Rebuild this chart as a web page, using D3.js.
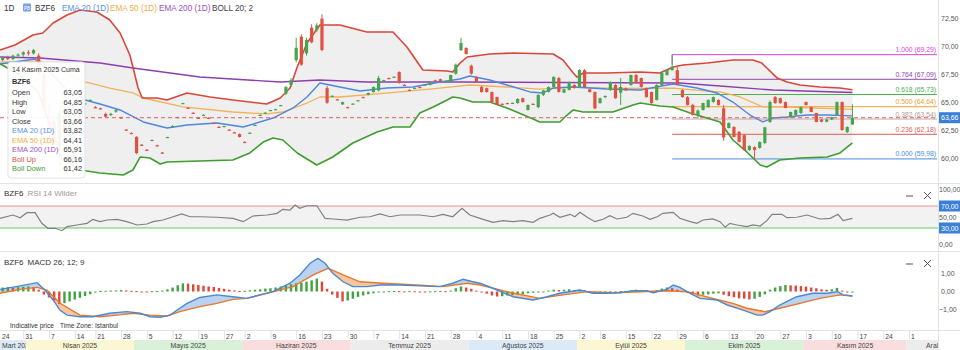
<!DOCTYPE html>
<html><head><meta charset="utf-8">
<script src="https://cdn.jsdelivr.net/npm/d3@7"></script>
<style>
html,body{margin:0;padding:0;background:#fff;}
svg{display:block;font-family:"Liberation Sans",Arial,sans-serif;}
</style></head><body>
<svg id="c" width="960" height="350"></svg>
<script>
// ---------------- DATA ----------------
const firstDay = "2025-03-24", lastDay = "2025-12-08";
const holidays = ["2025-04-18", "2025-05-26", "2025-09-01"];

// daily candles [open, high, low, close] from 2025-03-24 (trading days)
const candles = [
[68.7,68.9,68.6,68.8],[68.8,69.1,68.7,69.0],[69.0,69.2,68.8,68.9],[68.9,69.3,68.8,69.2],[69.2,69.4,69.0,69.3],
[69.3,69.6,69.1,69.5],[69.5,69.7,69.2,69.4],[69.4,69.8,69.3,69.7],[69.2,69.4,67.4,67.6],[67.5,67.7,64.2,64.4],
[63.4,64.8,61.6,63.0],[63.3,63.7,61.2,61.5],[60.9,64.7,59.4,64.1],[63.8,64.0,61.8,62.3],[62.4,63.9,62.2,63.7],
[63.8,64.2,63.3,63.9],[63.9,64.1,63.2,63.5],[64.9,65.0,64.8,64.95],[65.2,65.3,65.1,65.25],[64.6,64.7,64.5,64.55],
[64.5,64.55,64.4,64.45],[64.0,64.1,63.7,63.75],[63.9,64.1,63.8,64.0],[64.2,64.4,64.1,64.35],[63.7,63.75,63.55,63.6],
[62.6,62.65,62.5,62.55],[62.3,62.35,62.2,62.25],[61.95,62.0,60.4,60.5],[61.25,61.3,61.15,61.2],[60.8,60.85,60.7,60.75],
[61.65,61.7,61.6,61.68],[61.2,61.25,61.1,61.15],[60.55,60.6,60.45,60.5],[61.9,61.95,61.85,61.94],[62.9,63.0,62.8,62.92],
[63.7,63.75,63.65,63.72],[64.95,65.0,64.9,64.97],[64.55,64.6,64.5,64.53],[64.1,64.15,64.0,64.05],[63.65,63.7,63.6,63.63],
[63.9,63.95,63.85,63.92],[63.65,63.7,63.6,63.6],[63.2,63.25,63.1,63.15],[62.85,62.9,62.8,62.83],[62.9,62.95,62.85,62.92],
[62.6,62.6,62.5,62.56],[62.35,62.4,62.3,62.3],[62.2,62.25,61.9,61.94],[61.5,61.55,61.45,61.49],[62.3,62.35,62.25,62.32],
[63.0,63.05,62.95,63.02],[63.9,63.95,63.85,63.92],[64.1,64.15,64.05,64.12],[64.3,64.35,64.25,64.35],[64.4,64.45,64.35,64.42],
[64.75,64.8,64.7,64.79],[65.8,66.5,65.7,66.4],[66.6,67.2,66.4,67.0],[68.8,70.8,68.6,69.9],[70.9,71.1,68.3,68.4],
[69.4,70.8,69.2,70.6],[71.7,72.0,70.3,70.4],[71.5,72.1,71.3,71.9],[72.5,72.9,69.6,69.7],[66.3,66.5,64.9,65.0],
[65.6,65.65,65.55,65.62],[65.3,65.35,65.25,65.28],[64.85,65.1,64.8,65.05],[64.6,64.65,64.55,64.58],[64.9,64.95,64.85,64.92],
[65.2,65.25,65.15,65.22],[65.5,65.55,65.45,65.48],[65.7,65.9,65.65,65.87],[65.95,66.45,65.9,66.4],[66.1,67.4,66.0,67.2],
[67.0,67.05,66.95,67.02],[67.2,67.25,67.15,67.18],[67.3,67.35,67.25,67.32],[67.74,67.8,66.7,66.76],[66.6,66.65,66.55,66.58],
[66.15,66.2,66.1,66.13],[66.3,66.35,66.25,66.32],[66.4,66.45,66.35,66.38],[66.6,66.65,66.55,66.62],[66.6,66.85,66.55,66.8],
[67.0,67.05,66.95,66.98],[67.1,67.15,66.85,66.9],[66.9,66.95,66.85,66.92],[66.85,67.5,66.8,67.47],[67.6,68.5,67.5,68.4],
[69.7,70.8,69.6,70.33],[69.88,69.95,69.3,69.35],[68.3,68.4,67.5,67.6],[67.3,67.35,66.8,66.85],[66.4,66.5,65.9,65.95],
[66.3,66.35,65.9,65.95],[65.95,66.0,65.0,65.06],[65.5,65.55,64.75,64.8],[64.9,64.95,64.85,64.88],[64.97,65.0,64.9,64.95],
[64.97,65.0,64.9,64.99],[64.97,65.4,64.9,65.33],[65.4,65.45,65.0,65.06],[64.35,64.85,64.3,64.8],[64.9,64.95,64.8,64.85],
[64.6,65.75,64.5,65.7],[65.7,66.15,65.6,66.1],[65.96,66.45,65.9,66.4],[66.4,67.35,66.3,67.3],[67.2,67.3,65.9,65.96],
[65.9,66.25,65.85,66.2],[66.13,66.9,66.1,66.85],[66.58,66.65,66.25,66.31],[66.4,68.0,66.3,67.92],[67.9,68.0,66.35,66.4],
[66.2,66.25,65.9,65.95],[65.95,66.0,64.4,64.5],[64.97,65.45,64.9,65.4],[65.5,65.65,65.4,65.6],[66.13,66.9,66.05,66.85],
[66.58,66.65,65.35,65.4],[65.9,67.2,64.8,66.4],[66.3,66.35,66.05,66.1],[66.58,67.5,66.5,67.47],[67.47,67.55,66.7,66.76],
[67.2,67.25,66.35,66.4],[66.3,66.35,65.45,65.5],[65.95,66.0,64.9,64.97],[65.24,66.65,65.2,66.58],[66.58,67.7,66.5,67.65],
[67.47,67.95,67.4,67.92],[67.92,69.29,67.85,68.2],[67.9,68.2,66.55,66.6],[66.13,66.2,65.45,65.5],[65.5,65.6,64.75,64.8],
[64.8,64.9,63.85,63.9],[63.9,64.4,63.6,64.3],[64.35,65.0,64.3,64.97],[64.6,65.3,64.55,65.24],[65.06,65.55,65.0,65.5],
[65.24,65.3,64.75,64.79],[64.5,64.8,61.6,61.9],[62.74,63.25,62.7,63.19],[62.83,62.9,61.9,61.94],[62.4,62.45,61.45,61.5],
[62.1,62.15,60.7,60.78],[60.78,61.2,60.7,61.13],[61.04,61.1,59.98,60.78],[60.96,61.55,60.9,61.49],[61.4,62.85,61.3,62.8],
[63.28,65.2,63.2,65.06],[65.5,65.6,64.9,64.97],[65.4,65.45,64.9,64.97],[65.06,65.1,64.5,64.53],[63.72,64.2,63.65,64.17],
[63.9,64.4,63.85,64.35],[64.08,64.65,64.0,64.6],[65.06,65.1,64.75,64.79],[64.6,64.65,64.15,64.17],[64.08,64.1,63.25,63.28],
[63.5,63.55,63.25,63.3],[63.3,63.55,63.25,63.5],[63.5,63.75,63.45,63.7],[63.9,65.1,63.85,65.06],[65.06,65.1,62.5,62.56],
[62.38,62.9,62.3,62.83],[63.05,64.85,63.05,63.66]
];

// indicator lines: [trading-day number, value]
const ema20 = [[0.5,68.46],[7.3,68.9],[10.2,67.74],[13.1,66.31],[17.0,65.24],[19.9,64.88],[23.8,64.35],[28.3,63.28],[32.9,62.74],[36.8,63.01],[42.6,63.19],[47.7,62.83],[53.5,63.63],[57.4,64.53],[60.1,65.51],[62.6,66.76],[66.5,66.40],[70.4,66.04],[75.6,66.31],[80.7,66.40],[85.9,66.85],[89.8,67.12],[91.7,67.38],[95.6,67.03],[98.9,66.58],[103.4,65.96],[105.9,65.87],[107.9,66.31],[111.8,66.40],[118.3,66.22],[124.8,66.13],[130.0,66.58],[131.2,66.67],[135.8,66.31],[139.7,65.87],[142.8,65.06],[146.1,63.90],[148.6,63.28],[150.6,63.63],[153.3,63.72],[157.2,63.90],[161.1,63.90],[166,63.82]];
const ema50 = [[0.5,68.63],[8.3,68.7],[12.0,67.9],[17.0,66.85],[21.8,66.31],[26.3,65.87],[28.3,65.42],[36.0,64.62],[45.7,64.17],[52.3,64.0],[55.4,64.17],[60.1,64.97],[62.6,65.51],[66.5,65.51],[78.2,65.96],[85.9,66.31],[91.7,66.58],[98.9,66.40],[105.3,66.22],[111.8,66.40],[118.3,66.31],[124.8,66.27],[131.2,66.31],[137.8,66.04],[140.3,65.96],[144.2,65.51],[148.6,64.62],[152.0,64.62],[166,64.41]];
const ema200 = [[0.5,69.08],[8.3,68.99],[19.9,68.54],[26.3,68.10],[39.3,67.29],[54.9,66.85],[62.6,67.03],[71.7,66.85],[89.8,66.85],[109.2,66.80],[132.5,66.76],[140.3,66.49],[150.6,66.13],[166,65.91]];
const bollUp = [[0.5,69.71],[3.4,70.15],[6.9,71.04],[8.8,71.22],[10.8,72.12],[13.5,72.83],[16.0,73.28],[19.3,73.10],[21.8,72.38],[23.8,71.22],[25.7,69.26],[26.3,68.19],[27.3,66.31],[28.1,65.42],[31.0,65.42],[32.9,65.24],[36.8,65.87],[41.3,65.51],[45.7,65.24],[52.3,64.88],[54.9,65.42],[56.8,66.31],[58.2,68.19],[60.1,70.33],[62.6,71.94],[66.5,71.94],[71.7,71.31],[76.8,71.31],[79.5,69.97],[82.6,67.92],[87.3,67.83],[88.4,67.74],[89.8,68.54],[91.2,69.08],[95.6,69.35],[100.1,69.44],[107.9,69.35],[109.8,68.81],[111.8,67.65],[112.5,67.29],[113.7,67.65],[118.3,67.65],[124.8,67.74],[128.6,67.65],[131.2,68.19],[133.1,68.37],[137.8,68.54],[142.8,68.81],[146.7,68.81],[148.4,68.54],[149.4,68.10],[151.4,67.20],[153.3,66.85],[155.8,66.58],[159.7,66.40],[163.6,66.31],[166,66.16]];
const bollDown = [[0.5,68.46],[4.4,67.47],[7.9,65.96],[10.2,63.01],[12.5,60.06],[16.0,58.99],[19.9,58.72],[24.4,58.54],[26.3,58.99],[27.7,60.15],[29.6,60.06],[31.6,59.53],[32.9,59.71],[39.3,59.79],[45.7,59.88],[49.0,60.51],[51.6,61.49],[53.5,61.85],[55.4,61.67],[58.2,60.51],[62.0,59.44],[65.1,60.15],[69.0,61.40],[73.7,62.38],[76.8,62.83],[80.1,62.83],[82.0,64.08],[84.6,64.62],[87.3,65.24],[88.4,65.51],[89.8,65.42],[92.3,65.06],[95.6,65.06],[98.9,64.53],[104.0,63.54],[105.3,63.28],[109.2,63.28],[110.6,63.90],[111.8,64.35],[113.7,64.17],[119.5,64.17],[123.4,64.79],[124.8,64.97],[128.6,64.71],[131.2,64.62],[134.5,64.08],[140.3,63.28],[142.8,61.67],[145.5,60.60],[148.1,59.44],[149.4,59.26],[151.9,59.88],[155.8,60.06],[161.1,60.15],[163.6,60.51],[166,61.42]];

const rsi = [[0.5,47.6],[3.0,53.6],[4.4,48.7],[5.7,57.8],[7.3,57.8],[8.6,38.5],[9.8,29.5],[11.2,29.5],[12.5,25.1],[13.5,32.4],[15.4,35.5],[17.4,38.5],[18.5,45.8],[19.9,41.5],[21.3,44.5],[23.2,45.8],[25.1,41.5],[27.1,35.5],[29.0,37.3],[30.2,41.5],[32.1,44.5],[34.1,50.5],[35.8,55.5],[37.4,50.5],[39.3,50.5],[42.6,49.5],[45.7,47.6],[47.7,41.5],[49.6,51.8],[52.3,53.6],[54.3,56.7],[55.4,64.0],[56.8,62.7],[57.8,71.8],[58.7,65.8],[60.1,70.5],[62.0,70.5],[63.6,47.6],[65.1,46.4],[67.9,44.5],[70.4,49.5],[72.3,50.5],[74.3,55.5],[76.2,50.5],[78.2,53.6],[82.0,53.6],[84.6,50.5],[86.5,54.9],[88.4,50.5],[90.2,65.8],[91.7,53.6],[93.7,47.6],[96.2,40.4],[98.2,43.3],[100.1,41.5],[102.0,43.3],[104.0,40.4],[105.3,47.6],[107.3,53.6],[107.9,56.7],[109.2,49.5],[111.2,54.9],[112.1,50.5],[113.1,58.5],[114.5,49.5],[116.0,41.5],[117.6,45.8],[118.9,52.4],[120.3,46.4],[122.2,49.5],[123.4,56.7],[125.3,51.8],[126.7,45.8],[128.1,50.5],[129.2,56.7],[131.2,58.5],[132.5,47.6],[134.5,41.5],[135.8,38.5],[137.0,44.5],[138.9,46.4],[140.3,41.5],[141.3,31.3],[142.2,38.5],[143.6,35.5],[145.5,32.4],[146.7,35.5],[148.1,33.6],[149.4,43.3],[150.4,54.9],[152.3,54.9],[153.3,48.7],[155.2,49.5],[157.2,53.6],[159.7,46.4],[161.7,47.6],[163.2,54.9],[164.2,43.3],[166,47.6]];

const macdLine = [[0.5,0.12],[4.4,0.31],[7.7,0.49],[9.2,0.08],[10.8,-0.47],[12.1,-1.03],[13.5,-1.31],[16.0,-1.40],[18.5,-1.40],[21.8,-1.21],[25.1,-1.12],[27.7,-1.21],[29.6,-1.40],[31.6,-1.43],[33.5,-1.31],[34.9,-1.03],[36.8,-0.66],[39.3,-0.33],[42.6,-0.19],[45.7,-0.29],[48.4,-0.38],[51.0,-0.19],[53.5,-0.01],[56.8,0.46],[58.7,0.92],[60.7,1.57],[62.2,1.84],[63.6,1.57],[65.1,1.01],[67.1,0.54],[69.0,0.27],[71.7,0.27],[74.3,0.36],[78.2,0.36],[82.0,0.31],[85.9,0.27],[88.4,0.46],[90.4,0.68],[92.3,0.54],[93.7,0.46],[96.2,0.18],[100.1,-0.29],[104.0,-0.47],[106.7,-0.29],[109.2,-0.10],[113.1,0.08],[115.6,-0.10],[118.3,-0.10],[120.9,-0.07],[123.4,0.04],[126.1,0.04],[127.3,-0.07],[130.0,0.12],[131.2,0.36],[132.5,0.23],[134.5,-0.10],[136.4,-0.38],[139.7,-0.47],[141.7,-0.75],[144.8,-1.03],[147.5,-1.31],[148.6,-1.31],[150.0,-1.12],[151.9,-0.75],[153.9,-0.47],[155.2,-0.29],[158.3,-0.10],[161.1,-0.10],[163.2,-0.01],[164.2,-0.19],[166,-0.25]];
const signalLine = [[0.5,-0.10],[4.4,0.12],[7.7,0.23],[9.6,0.08],[12.1,-0.64],[16.0,-1.31],[19.9,-1.40],[23.2,-1.31],[26.3,-1.21],[29.6,-1.31],[32.9,-1.36],[35.4,-1.12],[39.3,-0.84],[42.6,-0.66],[45.7,-0.44],[48.4,-0.38],[52.3,-0.10],[57.4,0.27],[61.3,0.92],[64.2,1.29],[67.1,0.92],[70.4,0.54],[74.9,0.46],[81.4,0.36],[86.5,0.27],[91.2,0.46],[93.7,0.36],[98.9,-0.01],[105.3,-0.38],[109.8,-0.19],[114.5,-0.01],[119.5,-0.07],[124.8,-0.01],[130.0,0.04],[133.9,-0.01],[138.9,-0.38],[142.8,-0.66],[145.5,-0.93],[149.0,-1.12],[151.9,-0.93],[155.8,-0.66],[159.7,-0.38],[163.6,-0.19],[166,-0.25]];
const macdHist = [0.20,0.22,0.24,0.20,0.24,0.26,0.28,0.25,0.10,-0.17,
-0.33,-0.50,-0.70,-0.65,-0.55,-0.45,-0.35,-0.25,-0.15,-0.05,
0.03,0.04,0.05,0.06,0.08,0.06,0.04,0.02,-0.02,-0.03,
0.02,0.03,0.05,0.12,0.22,0.35,0.45,0.44,0.40,0.36,
0.32,0.28,0.25,0.20,0.15,0.10,0.06,0.03,0.04,0.07,
0.10,0.12,0.16,0.18,0.22,0.28,0.33,0.40,0.45,0.50,
0.55,0.62,0.72,0.55,0.15,-0.17,-0.35,-0.55,-0.50,-0.40,
-0.30,-0.22,-0.15,-0.10,-0.05,-0.03,0.02,0.03,0.02,0.01,
0.02,0.01,-0.01,-0.02,0.01,0.02,0.03,0.02,0.05,0.18,
0.28,0.22,0.15,0.05,-0.03,-0.12,-0.22,-0.28,-0.26,-0.22,
-0.20,-0.17,-0.15,-0.10,-0.07,-0.04,-0.01,0.05,0.10,0.08,
0.10,0.12,0.08,0.10,0.06,0.03,-0.03,-0.04,-0.02,0.01,
0.00,0.02,0.03,0.05,0.10,0.07,0.04,0.02,0.08,0.16,
0.22,0.18,0.10,0.02,-0.08,-0.16,-0.22,-0.18,-0.16,-0.12,
-0.10,-0.18,-0.26,-0.32,-0.38,-0.40,-0.44,-0.40,-0.30,-0.16,
0.10,0.22,0.30,0.36,0.34,0.33,0.30,0.27,0.22,0.18,
0.12,0.10,0.12,0.20,0.05,-0.02,0.00];

const fibStartDay = 131;
const fibLevels = ["1.000","0.764","0.618","0.500","0.382","0.236","0.000"];
const fibPrices = [69.29, 67.09, 65.73, 64.64, 63.54, 62.18, 59.98];
const fibColors = ["#dd44dd","#8e44ad","#4caf50","#f0a030","#c8a8a8","#e05a5a","#4a8fdc"];

const priceTicks = [60, 62.5, 65, 67.5, 70, 72.5];
const rsiTicks = [0, 50, 100];
const rsiBands = [70, 30];
const macdTicks = [-1, 0, 1];

const dateTicks = ["2025-03-24","2025-03-31","2025-04-07","2025-04-14","2025-04-21","2025-04-28","2025-05-05","2025-05-12","2025-05-19","2025-05-27","2025-06-02","2025-06-09","2025-06-16","2025-06-23","2025-06-30","2025-07-07","2025-07-14","2025-07-21","2025-07-28","2025-08-04","2025-08-11","2025-08-18","2025-08-25","2025-09-02","2025-09-08","2025-09-15","2025-09-22","2025-09-29","2025-10-06","2025-10-13","2025-10-20","2025-10-27","2025-11-03","2025-11-10","2025-11-17","2025-11-24","2025-12-01"];
const monthNames = ["Mart 2025","Nisan 2025","Mayıs 2025","Haziran 2025","Temmuz 2025","Ağustos 2025","Eylül 2025","Ekim 2025","Kasım 2025","Aralık 2025"];
const monthStarts = ["2025-03-01","2025-04-01","2025-05-01","2025-06-01","2025-07-01","2025-08-01","2025-09-01","2025-10-01","2025-11-01","2025-12-01"];
const monthColors = ["#dce9f7","#fbf7d2","#d9f0d9","#f8dede","#ececec"];

const tooltipTitle = "14 Kasım 2025 Cuma";
const symbol = "BZF6";

// ---------------- LAYOUT ----------------
const svg = d3.select("#c");
const W = 960, PR = 938;
const fmt = v => d3.format(".2f")(v).replace(".", ",");
const parse = d3.utcParse("%Y-%m-%d"), fstr = d3.utcFormat("%Y-%m-%d");
const hol = new Set(holidays);
const days = [];
for (let d = parse(firstDay); d <= parse(lastDay); d = d3.utcDay.offset(d, 1)) {
  const wd = d.getUTCDay(), s = fstr(d);
  if (wd !== 0 && wd !== 6 && !hol.has(s)) days.push(s);
}
const firstIdxOnOrAfter = s => { const i = days.findIndex(d => d >= s); return i < 0 ? days.length : i; };
const x = d3.scaleLinear().domain([0, days.length - 1]).range([-2.5, -2.5 + 5.15 * (days.length - 1)]);

const yP = d3.scaleLinear().domain([60, 72.5]).range([158.7, 18.7]);
const yR = d3.scaleLinear().domain([0, 100]).range([244.5, 189.5]);
const yM = d3.scaleLinear().domain([-1, 1]).range([309.5, 273.5]);

const defs = svg.append("defs");
defs.append("clipPath").attr("id","clipMain").append("rect").attr("x",0).attr("y",0).attr("width",PR).attr("height",183);
defs.append("clipPath").attr("id","clipRsi").append("rect").attr("x",0).attr("y",186).attr("width",PR).attr("height",64);
defs.append("clipPath").attr("id","clipMacd").append("rect").attr("x",0).attr("y",254).attr("width",PR).attr("height",76);
defs.append("clipPath").attr("id","clipAxis").append("rect").attr("x",0).attr("y",330).attr("width",PR).attr("height",20);

// separators
const sep = svg.append("g").attr("stroke","#e3e3e3").attr("stroke-width",1);
sep.append("line").attr("x1",0).attr("x2",W).attr("y1",183.5).attr("y2",183.5);
sep.append("line").attr("x1",0).attr("x2",W).attr("y1",251.5).attr("y2",251.5);
sep.append("line").attr("x1",0).attr("x2",W).attr("y1",330.5).attr("y2",330.5);
sep.append("line").attr("x1",PR+0.5).attr("x2",PR+0.5).attr("y1",0).attr("y2",350);

const lineP = d3.line().x(d => x(d[0])).y(d => yP(d[1]));

// ---- main panel ----
const main = svg.append("g").attr("clip-path","url(#clipMain)");
main.append("path")
  .attr("d", lineP(bollUp.concat(bollDown.slice().reverse())) + "Z")
  .attr("fill","#efefef");

// fib lines
fibPrices.forEach((p, k) => {
  main.append("line").attr("x1", x(fibStartDay)).attr("x2", PR - 1)
    .attr("y1", yP(p)).attr("y2", yP(p)).attr("stroke", fibColors[k]).attr("stroke-width", 1);
});
main.append("line").attr("x1", x(fibStartDay)).attr("x2", x(fibStartDay))
  .attr("y1", yP(fibPrices[0])).attr("y2", yP(fibPrices[0]) + 9).attr("stroke", fibColors[0]);

const drawLine = (data, color, w) => main.append("path").attr("d", lineP(data))
  .attr("fill","none").attr("stroke",color).attr("stroke-width",w).attr("stroke-linejoin","round");
drawLine(ema200, "#8b3fb0", 1.4);
drawLine(ema50, "#f2b25c", 1.3);
drawLine(ema20, "#4f86de", 1.4);
drawLine(bollUp, "#d8473a", 1.6);
drawLine(bollDown, "#3f9c2f", 1.6);

// candles
const upC = "#45a54f", dnC = "#e0513f";
const cg = main.append("g");
candles.forEach((c, i) => {
  const [o, h, l, cl] = c, col = cl >= o ? upC : dnC, cx = x(i);
  cg.append("line").attr("x1", cx).attr("x2", cx).attr("y1", yP(h)).attr("y2", yP(l))
    .attr("stroke", col).attr("stroke-width", 1);
  const yt = Math.min(yP(o), yP(cl)), hh = Math.max(1.2, Math.abs(yP(o) - yP(cl)));
  cg.append("rect").attr("x", cx - 1.6).attr("y", yt).attr("width", 3.2).attr("height", hh).attr("fill", col);
});

const last = candles[candles.length - 1];
// dashed close line
main.append("line").attr("x1",0).attr("x2",PR).attr("y1",yP(last[3])).attr("y2",yP(last[3]))
  .attr("stroke","#e06060").attr("stroke-width",1).attr("stroke-dasharray","4,3");

// fib labels
fibPrices.forEach((p, k) => {
  svg.append("text").attr("x", PR - 2).attr("y", yP(p) - 2.5).attr("text-anchor","end")
    .attr("font-size", 6.8).attr("fill", fibColors[k] === "#c8a8a8" ? "#b09a9a" : fibColors[k])
    .text(`${fibLevels[k]} (${fmt(p)})`);
});

// header
const hdr = svg.append("g").attr("font-size", 8.2);
hdr.append("text").attr("x", 4).attr("y", 11).attr("fill","#333").text("1D");
hdr.append("rect").attr("x", 23).attr("y", 3.5).attr("width", 8).attr("height", 8).attr("rx",1).attr("fill","#7b9fe6");
hdr.append("text").attr("x", 27).attr("y", 10).attr("text-anchor","middle").attr("font-size",4.5).attr("fill","#fff").text("PB");
hdr.append("text").attr("x", 35).attr("y", 11).attr("fill","#333").text(symbol);
hdr.append("text").attr("x", 62).attr("y", 11).attr("fill","#5b8ee6").text("EMA 20 (1D)");
hdr.append("text").attr("x", 110).attr("y", 11).attr("fill","#f0ad45").text("EMA 50 (1D)");
hdr.append("text").attr("x", 159).attr("y", 11).attr("fill","#9b4fc0").text("EMA 200 (1D)");
hdr.append("text").attr("x", 212).attr("y", 11).attr("fill","#444").text("BOLL 20; 2");

// price axis
const pa = svg.append("g").attr("font-size", 7).attr("fill","#555");
priceTicks.forEach(t => pa.append("text").attr("x", 941).attr("y", yP(t) + 2.5).text(fmt(t)));
svg.append("rect").attr("x", 939).attr("y", yP(last[3]) - 5.5).attr("width", 21).attr("height", 11).attr("fill","#3b7fd8");
svg.append("text").attr("x", 941).attr("y", yP(last[3]) + 2.5).attr("font-size",7).attr("fill","#fff").text(fmt(last[3]));

// tooltip
const tt = svg.append("g");
tt.append("rect").attr("x", 8).attr("y", 62).attr("width", 77).attr("height", 116).attr("rx", 3)
  .attr("fill","#fff").attr("fill-opacity",0.93).attr("stroke","#e2e2e2");
tt.append("text").attr("x", 12).attr("y", 72).attr("font-size", 7).attr("fill","#333").text(tooltipTitle);
tt.append("text").attr("x", 12).attr("y", 84).attr("font-size", 7.4).attr("font-weight","bold").attr("fill","#333").text(symbol);
const lastV = a => a[a.length - 1][1];
const rows = [
  ["Open", last[0], "#333"], ["High", last[1], "#333"], ["Low", last[2], "#333"], ["Close", last[3], "#333"],
  ["EMA 20 (1D)", lastV(ema20), "#5b8ee6"], ["EMA 50 (1D)", lastV(ema50), "#f0ad45"],
  ["EMA 200 (1D)", lastV(ema200), "#9b4fc0"], ["Boll Up", lastV(bollUp), "#e0513f"], ["Boll Down", lastV(bollDown), "#3f9c2f"]
];
rows.forEach((r, k) => {
  const yy = 95 + k * 9.5;
  tt.append("text").attr("x", 12).attr("y", yy).attr("font-size", 7.4).attr("fill", r[2]).text(r[0]);
  tt.append("text").attr("x", 82).attr("y", yy).attr("text-anchor","end").attr("font-size", 7.4).attr("fill", "#333").text(fmt(r[1]));
});

// ---- RSI panel ----
const rp = svg.append("g").attr("clip-path","url(#clipRsi)");
rp.append("rect").attr("x",0).attr("width",PR).attr("y",yR(70)).attr("height",yR(30)-yR(70)).attr("fill","#f2f2f2");
rp.append("line").attr("x1",0).attr("x2",PR).attr("y1",yR(70)).attr("y2",yR(70)).attr("stroke","#e9908a").attr("stroke-width",1);
rp.append("line").attr("x1",0).attr("x2",PR).attr("y1",yR(30)).attr("y2",yR(30)).attr("stroke","#6cc06a").attr("stroke-width",1);
rp.append("path").attr("d", d3.line().x(d => x(d[0])).y(d => yR(d[1]))(rsi))
  .attr("fill","none").attr("stroke","#808080").attr("stroke-width",1.2);
svg.append("text").attr("x",4).attr("y",196).attr("font-size",8).attr("fill","#333").text(symbol)
  .append("tspan").attr("dx",4).attr("fill","#999").text("RSI 14 Wilder");
const ra = svg.append("g").attr("font-size",7).attr("fill","#555");
rsiTicks.forEach(t => ra.append("text").attr("x",939).attr("y",yR(t)+2.5).text(fmt(t)));
rsiBands.forEach(t => {
  svg.append("rect").attr("x",939).attr("y",yR(t)-5.5).attr("width",21).attr("height",11).attr("fill","#3b7fd8");
  svg.append("text").attr("x",941).attr("y",yR(t)+2.5).attr("font-size",7).attr("fill","#fff").text(fmt(t));
});

// ---- MACD panel ----
const mp = svg.append("g").attr("clip-path","url(#clipMacd)");
function interp(k, t) {
  if (t <= k[0][0]) return k[0][1];
  for (let j = 1; j < k.length; j++) if (t <= k[j][0]) {
    const [t0, v0] = k[j-1], [t1, v1] = k[j]; return v0 + (v1 - v0) * (t - t0) / (t1 - t0);
  }
  return k[k.length - 1][1];
}
const ts = Array.from(new Set(macdLine.map(d => d[0]).concat(signalLine.map(d => d[0])))).sort((a, b) => a - b);
const both = ts.map(t => ({ t, m: interp(macdLine, t), s: interp(signalLine, t) }));
defs.append("clipPath").attr("id","aboveSig").append("path")
  .attr("d", d3.area().x(d => x(d.t)).y0(250).y1(d => yM(d.s))(both));
defs.append("clipPath").attr("id","belowSig").append("path")
  .attr("d", d3.area().x(d => x(d.t)).y0(d => yM(d.s)).y1(335)(both));
const between = d3.area().x(d => x(d.t)).y0(d => yM(d.s)).y1(d => yM(d.m))(both);
mp.append("g").attr("clip-path","url(#aboveSig)").append("path").attr("d", between).attr("fill","#b9d3f0");
mp.append("g").attr("clip-path","url(#belowSig)").append("path").attr("d", between).attr("fill","#f6c6a2");
macdHist.forEach((v, i) => {
  const prev = i > 0 ? macdHist[i - 1] : v;
  const col = v >= prev ? "#3fa33f" : "#e0453a";
  const y0 = yM(0), y1 = yM(v);
  mp.append("rect").attr("x", x(i) - 1.2).attr("width", 2.4)
    .attr("y", Math.min(y0, y1)).attr("height", Math.max(1, Math.abs(y1 - y0))).attr("fill", col);
});
const lineM = d3.line().x(d => x(d[0])).y(d => yM(d[1]));
mp.append("path").attr("d", lineM(signalLine)).attr("fill","none").attr("stroke","#e8772e").attr("stroke-width",1.4);
mp.append("path").attr("d", lineM(macdLine)).attr("fill","none").attr("stroke","#4b88cf").attr("stroke-width",1.4);
svg.append("text").attr("x",4).attr("y",265).attr("font-size",8).attr("fill","#333").text(symbol)
  .append("tspan").attr("dx",4).text("MACD 26; 12; 9");
const ma = svg.append("g").attr("font-size",7).attr("fill","#555");
macdTicks.forEach(t => ma.append("text").attr("x", t < 0 ? 939 : 941).attr("y",yM(t)+2.5).text(fmt(t)));

// panel icons
[199, 267].forEach(yy => {
  svg.append("line").attr("x1",906).attr("x2",913).attr("y1",yy-3).attr("y2",yy-3).attr("stroke","#555").attr("stroke-width",1);
  svg.append("path").attr("d",`M${924},${yy-7}L${931},${yy}M${931},${yy-7}L${924},${yy}`).attr("stroke","#555").attr("stroke-width",1);
});

// footer
svg.append("text").attr("x",10).attr("y",328).attr("font-size",6.6).attr("fill","#333").text("Indicative price");
svg.append("text").attr("x",60).attr("y",328).attr("font-size",6.6).attr("fill","#333").text("Time Zone: Istanbul");

// date axis
const ax = svg.append("g").attr("clip-path","url(#clipAxis)");
dateTicks.forEach(s => {
  const xi = x(firstIdxOnOrAfter(s));
  ax.append("line").attr("x1",xi+0.5).attr("x2",xi+0.5).attr("y1",331).attr("y2",339).attr("stroke","#e2e2e2");
  ax.append("text").attr("x", Math.max(2, xi + 2)).attr("y", 338.5).attr("font-size",6.8).attr("fill","#444")
    .text(+s.slice(8));
});
const bandX = monthStarts.map((s, k) => k === 0 ? 0 : x(firstIdxOnOrAfter(s)) - 2.5);
monthNames.forEach((m, k) => {
  const x0 = bandX[k], x1 = k < monthNames.length - 1 ? bandX[k + 1] : 980;
  ax.append("rect").attr("x", x0).attr("y", 340).attr("width", x1 - x0).attr("height", 10).attr("fill", monthColors[k % 5]);
  const t = ax.append("text").attr("y", 347.5).attr("font-size",6.8).attr("fill","#444").text(m);
  if (k === 0) t.attr("x", x0 + 2); else t.attr("x", (x0 + x1) / 2).attr("text-anchor","middle");
});
</script>
</body></html>
